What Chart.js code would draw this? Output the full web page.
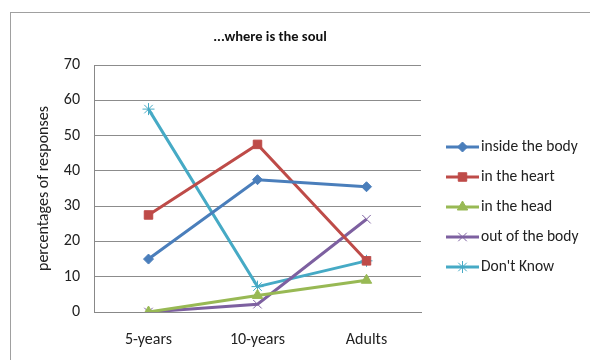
<!DOCTYPE html>
<html>
<head>
<meta charset="utf-8">
<script src="https://cdn.jsdelivr.net/npm/chart.js@4.4.1/dist/chart.umd.min.js"></script>
<style>
  html, body { margin: 0; padding: 0; background: #fff; }
  #wrap { position: relative; width: 590px; height: 360px; }
  #frame { position: absolute; left: 10px; top: 12px; width: 600px; height: 400px; border: 1px solid #a0a0a0; }
  canvas { position: absolute; left: 0; top: 0; }
</style>
</head>
<body>
<div id="wrap">
  <div id="frame"></div>
  <canvas id="chart" width="590" height="360"></canvas>
</div>
<script>
const categories = ["5-years", "10-years", "Adults"];
const insideBody = [15, 37.5, 35.5];
const inHeart = [27.5, 47.5, 14.5];
const inHead = [0, 4.7, 9];
const outOfBody = [0, 2.2, 26.3];
const dontKnow = [57.5, 7.2, 14.5];
const yTicks = [0, 10, 20, 30, 40, 50, 60, 70];

const font = "Calibri, Carlito, 'Liberation Sans', 'Open Sans', sans-serif";

const makeSet = (label, data, color, pointStyle, radius) => ({
  label,
  data,
  borderColor: color,
  backgroundColor: color,
  pointBackgroundColor: color,
  pointBorderColor: color,
  borderWidth: 3,
  pointStyle,
  pointRadius: radius,
  pointBorderWidth: 1,
  tension: 0,
});

// legend + title drawn on the canvas, line + marker like the original
const sideLegend = {
  id: "sideLegend",
  afterDraw(chart) {
    const { ctx } = chart;
    ctx.save();
    chart.data.datasets.forEach((ds, i) => {
      const y = 147 + i * 30;
      ctx.strokeStyle = ds.borderColor;
      ctx.lineWidth = 3;
      ctx.beginPath();
      ctx.moveTo(446, y);
      ctx.lineTo(479, y);
      ctx.stroke();
      ctx.fillStyle = ds.borderColor;
      ctx.lineWidth = 1;
      Chart.helpers.drawPoint(ctx, { pointStyle: ds.pointStyle, radius: ds.pointRadius, borderWidth: 1 }, 462.5, y);
      ctx.fillStyle = "#222";
      ctx.font = "15.5px " + font;
      ctx.textBaseline = "middle";
      ctx.fillText(ds.label, 481, y);
    });
    ctx.fillStyle = "#111";
    ctx.font = "bold 14.5px " + font;
    ctx.textAlign = "center";
    ctx.textBaseline = "middle";
    ctx.fillText("...where is the soul", 270, 37);
    ctx.restore();
  },
};

new Chart(document.getElementById("chart"), {
  type: "line",
  data: {
    labels: categories,
    datasets: [
      makeSet("inside the body", insideBody, "#4A7EBB", "rectRot", 5),
      makeSet("in the heart", inHeart, "#BE4B48", "rect", 6),
      makeSet("in the head", inHead, "#98B954", "triangle", 6),
      makeSet("out of the body", outOfBody, "#7D60A0", "crossRot", 6),
      makeSet("Don't Know", dontKnow, "#46AAC5", "star", 6),
    ],
  },
  options: {
    responsive: false,
    animation: false,
    layout: { padding: { left: 34, right: 169, top: 65, bottom: 0 } },
    plugins: {
      legend: { display: false },
      title: { display: false },
      tooltip: { enabled: false },
    },
    scales: {
      x: {
        offset: true,
        grid: { display: false, drawTicks: false },
        border: { color: "#888", width: 1 },
        ticks: { color: "#222", padding: 18, font: { size: 16, family: font } },
        afterFit: (axis) => { axis.height = 48; },
      },
      y: {
        min: 0,
        max: 70,
        afterBuildTicks: (axis) => { axis.ticks = yTicks.map((v) => ({ value: v })); },
        grid: { color: "#8c8c8c", lineWidth: 1, drawTicks: false },
        border: { color: "#888", width: 1 },
        ticks: { color: "#222", padding: 14, font: { size: 16, family: font } },
        title: {
          display: true,
          text: "percentages of responses",
          color: "#222",
          font: { size: 16, family: font },
          padding: 0,
        },
        afterFit: (axis) => { axis.width = 60; },
      },
    },
  },
  plugins: [sideLegend],
});
</script>
</body>
</html>
